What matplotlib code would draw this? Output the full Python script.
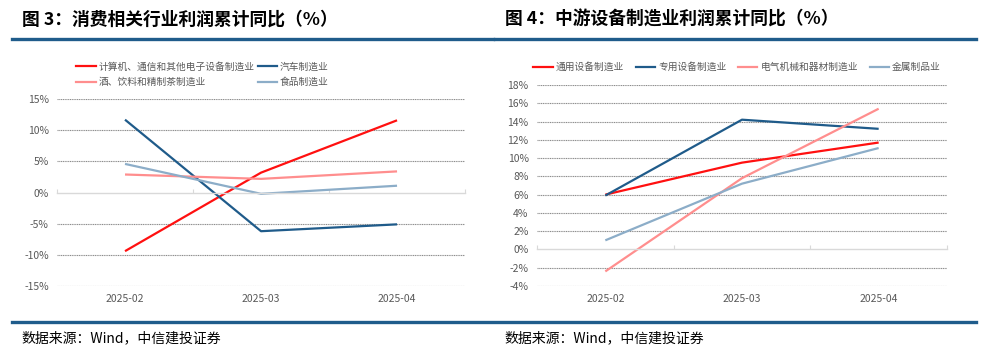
import matplotlib
matplotlib.use('Agg')
import matplotlib.pyplot as plt
from matplotlib.lines import Line2D
import numpy as np

plt.rcParams['font.family'] = ['Noto Sans CJK SC', 'DejaVu Sans']
plt.rcParams['axes.unicode_minus'] = False

# 数据
months = ['2025-02', '2025-03', '2025-04']

# 图 3
consumer_names = ['计算机、通信和其他电子设备制造业', '汽车制造业', '酒、饮料和精制茶制造业', '食品制造业']
electronics = [-9.4, 3.2, 11.6]
auto = [11.7, -6.2, -5.1]
liquor = [2.9, 2.2, 3.4]
food = [4.6, -0.2, 1.1]
consumer_ticks = [-15, -10, -5, 0, 5, 10, 15]

# 图 4
equip_names = ['通用设备制造业', '专用设备制造业', '电气机械和器材制造业', '金属制品业']
general_equip = [6.0, 9.5, 11.7]
special_equip = [5.9, 14.2, 13.2]
electrical = [-2.4, 7.8, 15.4]
metal = [1.0, 7.2, 11.1]
equip_ticks = [-4, -2, 0, 2, 4, 6, 8, 10, 12, 14, 16, 18]

colors = ['#FF1010', '#1F5B8A', '#FF8E8E', '#8CADC8']
header_blue = '#1F5C8B'
tick_gray = '#595959'


def draw_panel(ax, series, names, yticks, legend_anchor, ncol, colspace):
    x = np.arange(len(months))
    for vals, c in zip(series, colors):
        ax.plot(x, vals, color=c, lw=1.6, solid_capstyle='butt')
    ax.set_xlim(-0.5, len(months) - 0.5)
    ax.set_ylim(yticks[0], yticks[-1])
    ax.set_yticks(yticks)
    ax.set_yticklabels([f'{t}%' for t in yticks])
    for t in yticks:
        if t == 0:
            continue
        ax.axhline(t, color='#8c8c8c', lw=0.8, ls=(0, (1, 0.6)), zorder=0)
    for s in ['top', 'right', 'left']:
        ax.spines[s].set_visible(False)
    # 横轴放在 0 处，刻度在分类边界
    ax.spines['bottom'].set_position(('data', 0))
    ax.spines['bottom'].set_color('#d9d9d9')
    ax.spines['bottom'].set_linewidth(1.0)
    ax.set_xticks(np.arange(len(months) + 1) - 0.5)
    ax.tick_params(axis='x', direction='in', length=3, color='#d9d9d9', labelbottom=False)
    ax.tick_params(axis='y', length=0, labelsize=7.5, labelcolor=tick_gray, pad=6)
    sec = ax.secondary_xaxis(0)
    sec.set_xticks(x)
    sec.set_xticklabels(months)
    sec.tick_params(length=0, labelsize=7.5, labelcolor=tick_gray, pad=6)
    sec.spines['bottom'].set_visible(False)

    handles = [Line2D([], [], color=c, lw=1.6) for c in colors]
    labels = list(names)
    if ncol == 2:
        # 按行排列：matplotlib 按列填充
        order = [0, 2, 1, 3]
        handles = [handles[i] for i in order]
        labels = [labels[i] for i in order]
    ax.figure.legend(handles, labels, loc='center', bbox_to_anchor=legend_anchor,
                     ncol=ncol, frameon=False, fontsize=7, handlelength=2.0,
                     handletextpad=0.3, columnspacing=colspace, labelcolor=tick_gray,
                     borderaxespad=0, borderpad=0, labelspacing=0.55)


fig = plt.figure(figsize=(9.88, 3.54), dpi=100)

ax1 = fig.add_axes([0.0577, 0.192, 0.413, 0.528])
draw_panel(ax1, [electronics, auto, liquor, food], consumer_names,
           consumer_ticks, (0.205, 0.79), 2, 0.3)

ax2 = fig.add_axes([0.5435, 0.192, 0.415, 0.568])
draw_panel(ax2, [general_equip, special_equip, electrical, metal], equip_names,
           equip_ticks, (0.746, 0.811), 4, 1.2)

# 标题
fig.text(0.022, 0.945, '图 3：消费相关行业利润累计同比（%）', fontsize=12.8,
         fontweight='bold', va='center', ha='left')
fig.text(0.511, 0.945, '图 4：中游设备制造业利润累计同比（%）', fontsize=12.8,
         fontweight='bold', va='center', ha='left')

# 蓝色分隔线
fig.add_artist(Line2D([0.012, 0.499], [0.891, 0.891], color=header_blue, lw=2.4))
fig.add_artist(Line2D([0.501, 0.988], [0.891, 0.891], color=header_blue, lw=2.4))
fig.add_artist(Line2D([0.012, 0.988], [0.09, 0.09], color=header_blue, lw=2.4))

# 数据来源
fig.text(0.022, 0.045, '数据来源：Wind，中信建投证券', fontsize=10, va='center', ha='left',
         style='italic')
fig.text(0.511, 0.045, '数据来源：Wind，中信建投证券', fontsize=10, va='center', ha='left',
         style='italic')

fig.savefig('out.png', dpi=100, facecolor='white')
